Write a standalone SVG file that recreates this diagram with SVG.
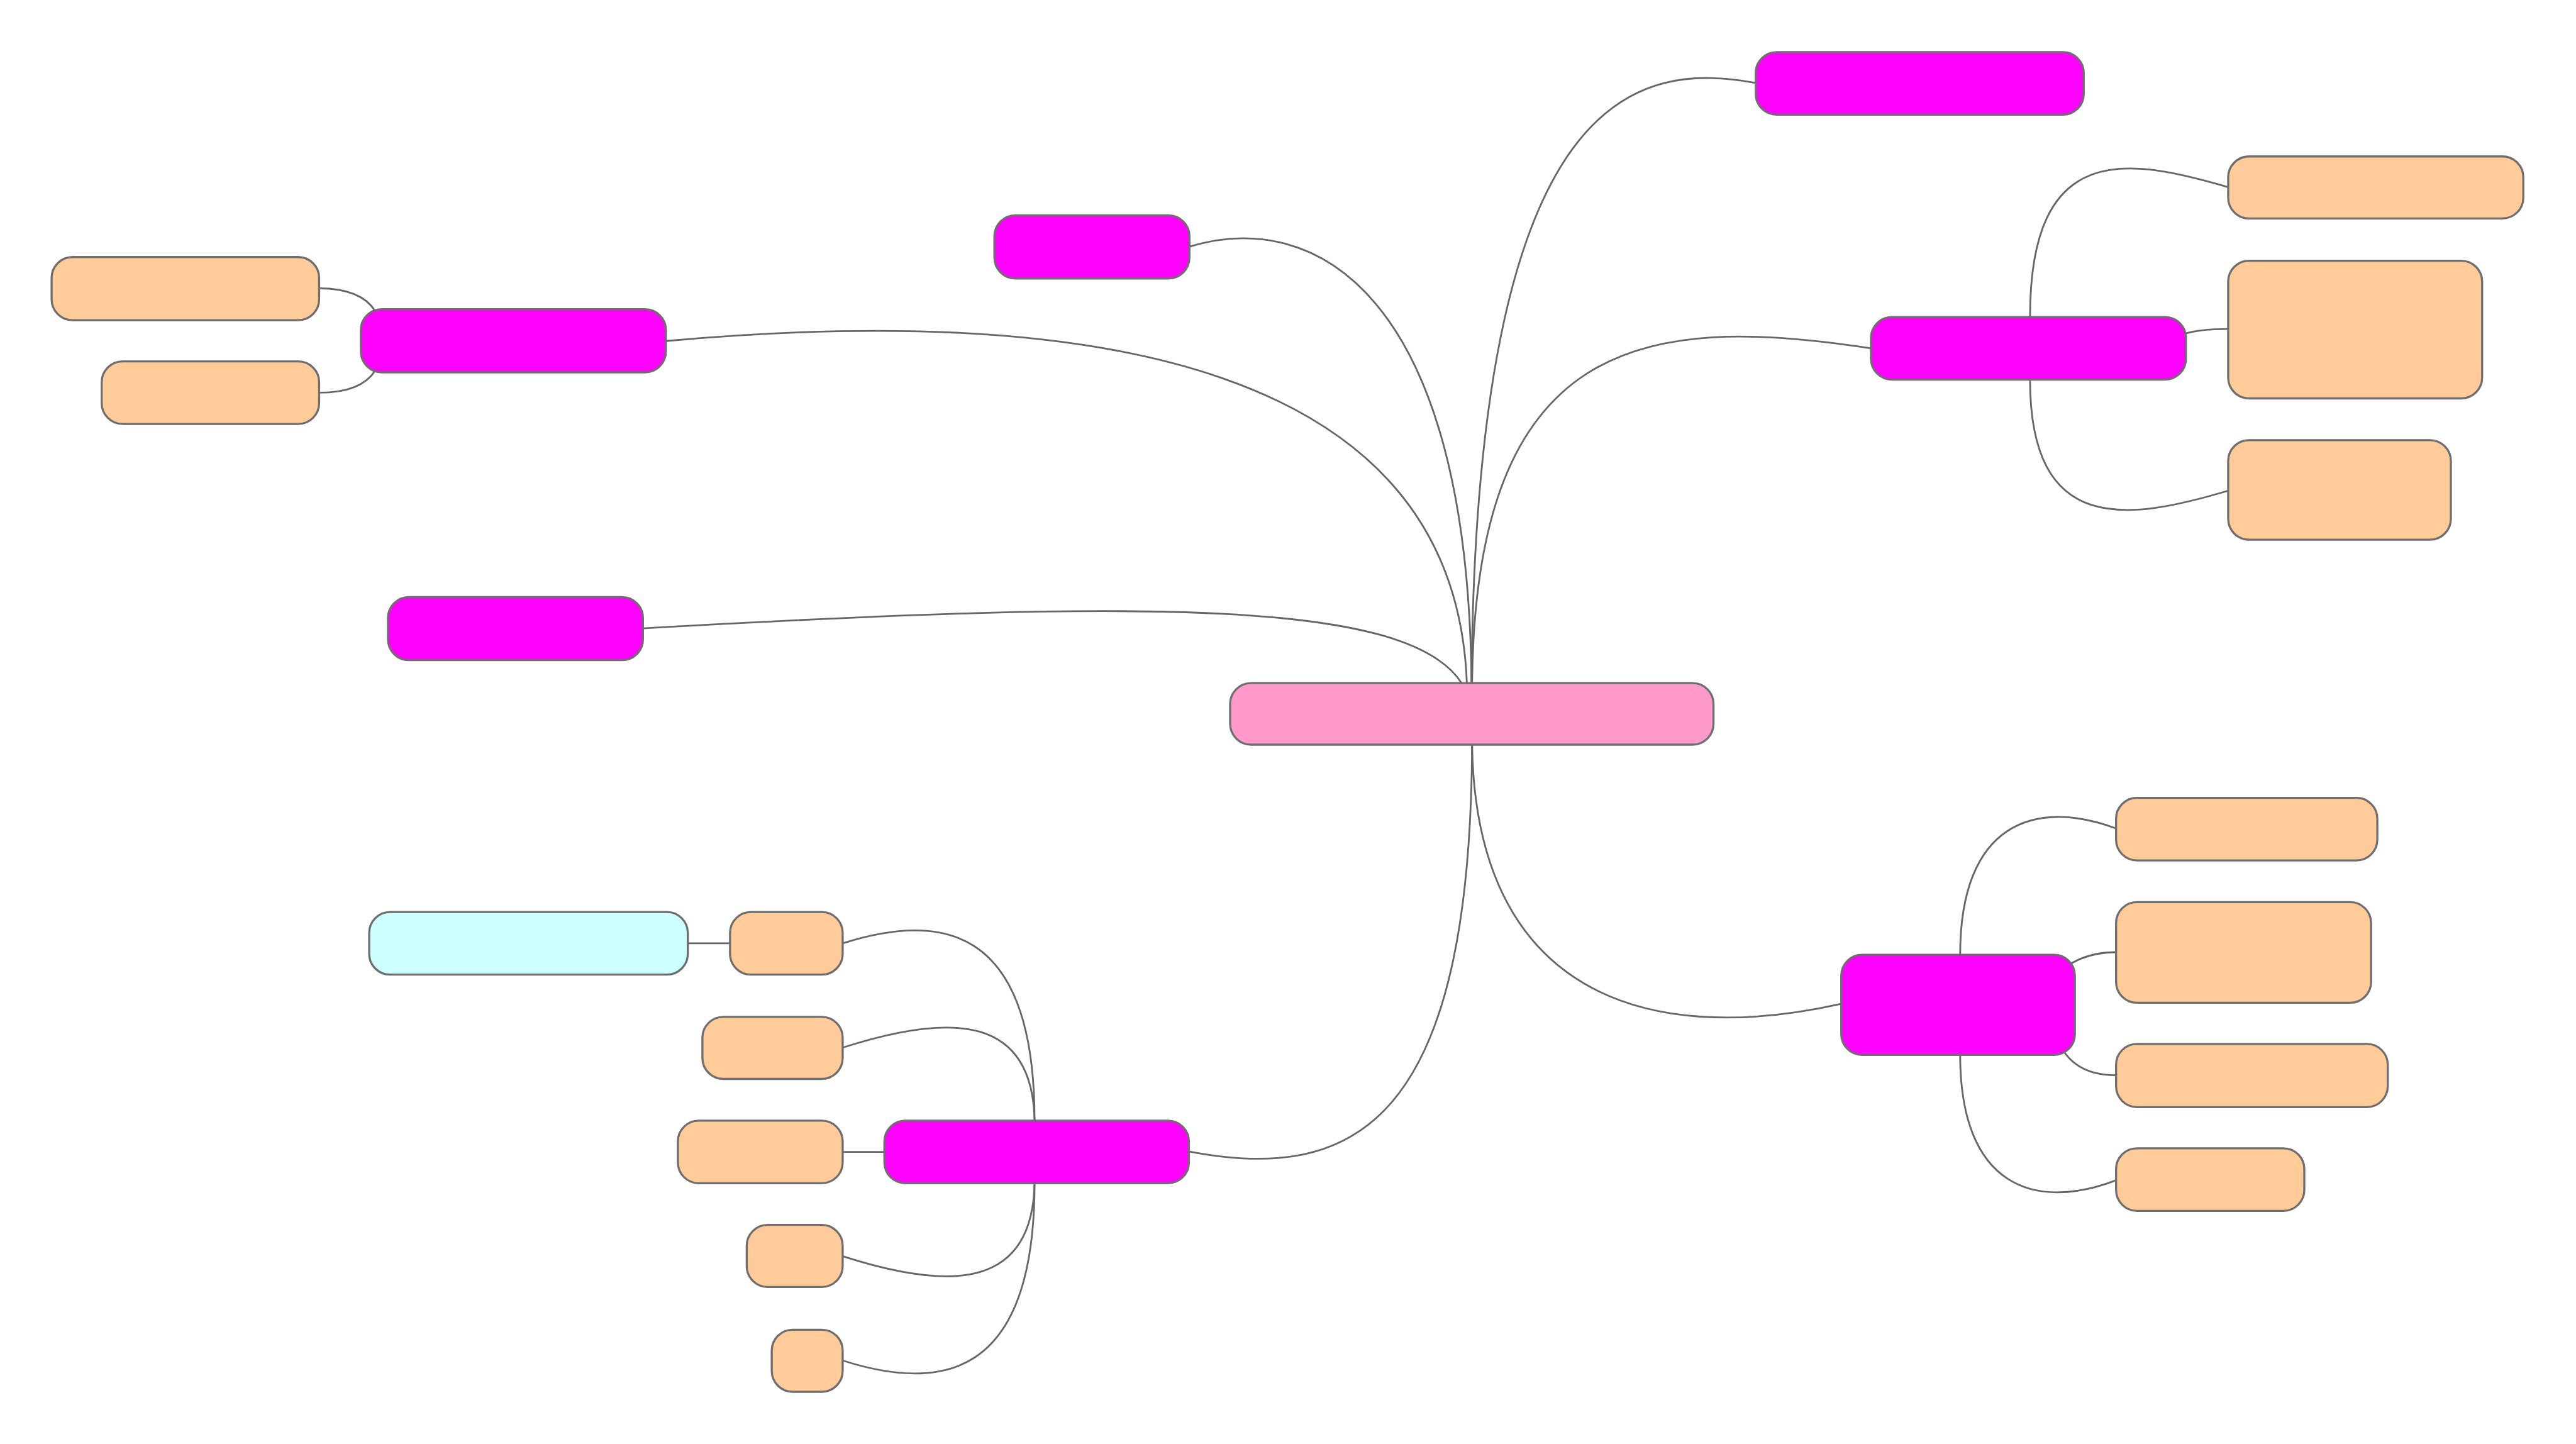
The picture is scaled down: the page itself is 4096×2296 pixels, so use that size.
<svg xmlns="http://www.w3.org/2000/svg" width="4096" height="2296" viewBox="0 0 4096 2296">
<style>
.n{stroke:#6e6e6e;stroke-width:4}
.root{fill:#ff99cc}
.l1{fill:#ff00ff}
.l2{fill:#ffcc99}
.l3{fill:#ccffff}
.e{fill:none;stroke:#666666;stroke-width:3.4}
</style>
<rect width="4096" height="2296" fill="#ffffff"/>
<g transform="scale(0.82915)">
<g id="connectors">
<path class="e" d="M2822,1369 L2822,1310 C2830,150 3150,120 3367,159"/>
<path class="e" d="M2822,1369 L2822,1310 C2815,560 2520,400 2281,473"/>
<path class="e" d="M2822,1369 L2813,1310 C2790,700 2100,580 1277,654"/>
<path class="e" d="M2822,1369 L2803,1310 C2700,1150 2200,1150 1233,1205"/>
<path class="e" d="M2822,1369 L2823,1310 C2830,650 3150,600 3588,668"/>
<path class="e" d="M2822,1369 L2823,1428 C2830,1900 3150,2010 3531,1925"/>
<path class="e" d="M2822,1369 L2823,1428 C2820,2150 2600,2270 2280,2208"/>
<path class="e" d="M3893,668 L3893,608 C3893,268 4081,303 4273,359"/>
<path class="e" d="M3890,668 L4190,640 C4215,632 4245,631 4273,631"/>
<path class="e" d="M3893,668 L3893,728 C3893,1028 4081,998 4273,941"/>
<path class="e" d="M3759,1927 L3759,1831 C3759,1580 3900,1530 4059,1589"/>
<path class="e" d="M3755,1927 L3965,1852 C3995,1832 4025,1826 4058,1826"/>
<path class="e" d="M3755,1927 L3955,2012 C3975,2045 4010,2062 4058,2062"/>
<path class="e" d="M3759,1927 L3759,2023 C3759,2274 3900,2324 4059,2263"/>
<path class="e" d="M984,653 L720,597 C700,565 660,553 612,553"/>
<path class="e" d="M984,653 L720,710 C700,742 660,753 612,753"/>
<path class="e" d="M1984,2209 L1984,2149 C1984,1770 1800,1750 1616,1809"/>
<path class="e" d="M1984,2209 L1984,2149 C1980,1950 1830,1940 1616,2009"/>
<path class="e" d="M1988,2209 L1616,2209"/>
<path class="e" d="M1984,2209 L1984,2269 C1980,2468 1830,2478 1616,2409"/>
<path class="e" d="M1984,2209 L1984,2269 C1984,2648 1800,2668 1616,2609"/>
<path class="e" d="M1508,1809 L1013,1809"/>
</g>
<g id="root"><rect class="n root" x="2359" y="1310" width="927" height="118" rx="40"/></g>
<g id="nodeA"><rect class="n l1" x="3367" y="100" width="629" height="120" rx="40"/></g>
<g id="nodeB"><rect class="n l1" x="3588" y="608" width="604" height="120" rx="40"/></g>
<g id="nodeB1"><rect class="n l2" x="4273" y="300" width="566" height="119" rx="40"/></g>
<g id="nodeB2"><rect class="n l2" x="4273" y="500" width="487" height="264" rx="40"/></g>
<g id="nodeB3"><rect class="n l2" x="4273" y="844" width="427" height="191" rx="40"/></g>
<g id="nodeC"><rect class="n l1" x="3531" y="1831" width="448" height="192" rx="40"/></g>
<g id="nodeC1"><rect class="n l2" x="4058" y="1530" width="501" height="120" rx="40"/></g>
<g id="nodeC2"><rect class="n l2" x="4058" y="1730" width="489" height="193" rx="40"/></g>
<g id="nodeC3"><rect class="n l2" x="4058" y="2002" width="521" height="121" rx="40"/></g>
<g id="nodeC4"><rect class="n l2" x="4058" y="2202" width="361" height="120" rx="40"/></g>
<g id="nodeD"><rect class="n l1" x="692" y="593" width="585" height="121" rx="40"/></g>
<g id="nodeD1"><rect class="n l2" x="99" y="493" width="513" height="121" rx="40"/></g>
<g id="nodeD2"><rect class="n l2" x="195" y="693" width="417" height="120" rx="40"/></g>
<g id="nodeE"><rect class="n l1" x="744" y="1145" width="489" height="121" rx="40"/></g>
<g id="nodeF"><rect class="n l1" x="1907" y="413" width="374" height="121" rx="40"/></g>
<g id="nodeG"><rect class="n l1" x="1696" y="2149" width="584" height="120" rx="40"/></g>
<g id="nodeG1"><rect class="n l2" x="1400" y="1749" width="216" height="120" rx="40"/></g>
<g id="nodeG2"><rect class="n l2" x="1347" y="1950" width="269" height="119" rx="40"/></g>
<g id="nodeG3"><rect class="n l2" x="1300" y="2149" width="316" height="120" rx="40"/></g>
<g id="nodeG4"><rect class="n l2" x="1432" y="2349" width="184" height="119" rx="40"/></g>
<g id="nodeG5"><rect class="n l2" x="1480" y="2550" width="136" height="119" rx="40"/></g>
<g id="nodeH"><rect class="n l3" x="708" y="1749" width="611" height="120" rx="40"/></g>
</g>
</svg>
